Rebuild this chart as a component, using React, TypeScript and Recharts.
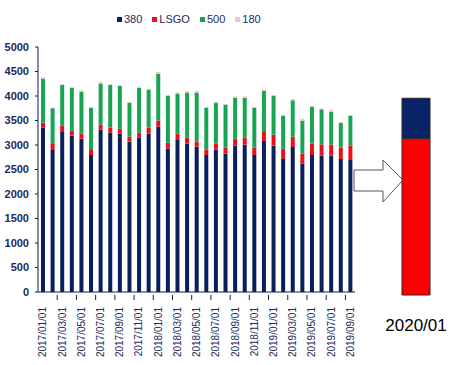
import { Bar, BarChart, XAxis, YAxis } from "recharts";

const months = [
  "2017/01/01", "2017/02/01", "2017/03/01", "2017/04/01", "2017/05/01", "2017/06/01",
  "2017/07/01", "2017/08/01", "2017/09/01", "2017/10/01", "2017/11/01", "2017/12/01",
  "2018/01/01", "2018/02/01", "2018/03/01", "2018/04/01", "2018/05/01", "2018/06/01",
  "2018/07/01", "2018/08/01", "2018/09/01", "2018/10/01", "2018/11/01", "2018/12/01",
  "2019/01/01", "2019/02/01", "2019/03/01", "2019/04/01", "2019/05/01", "2019/06/01",
  "2019/07/01", "2019/08/01", "2019/09/01",
];

const hsfo380 = [
  3353, 2913, 3266, 3190, 3129, 2796, 3313, 3251, 3231, 3068, 3149, 3231,
  3374, 2925, 3102, 3027, 2966, 2796, 2904, 2823, 2986, 3006, 2796, 3082,
  2986, 2715, 2959, 2619, 2796, 2782, 2782, 2715, 2694,
];

const lsgo = [
  102, 108, 129, 102, 102, 102, 102, 102, 102, 102, 102, 122,
  122, 122, 129, 122, 102, 108, 122, 122, 143, 143, 149, 184,
  225, 210, 210, 204, 231, 231, 225, 231, 292,
];

const hsfo500 = [
  898, 729, 837, 878, 857, 863, 837, 871, 871, 694, 918, 776,
  959, 959, 810, 918, 1000, 857, 837, 878, 837, 816, 816, 843,
  796, 674, 743, 674, 755, 714, 674, 510, 612,
];

const hsfo180 = [
  30, 15, 15, 15, 30, 15, 35, 15, 15, 15, 20, 15,
  40, 15, 35, 40, 40, 15, 15, 15, 25, 30, 20, 20,
  10, 10, 25, 40, 10, 20, 40, 10, 15,
];

const yTicks = [0, 500, 1000, 1500, 2000, 2500, 3000, 3500, 4000, 4500, 5000];

// 2020/01 outlook bar
const outlookLabel = ["2020/01"];
const outlookLsgo = [3200];
const outlook380 = [815];

const NAVY = "#0b1f5c";
const RED = "#e8101a";
const GREEN = "#17a552";
const PINK = "#f2c4c4";
const TEXT = "#1b2a5c";
const FONT = "'Liberation Sans', Arial, sans-serif";

const data = months.map((month, i) => ({
  month,
  s380: hsfo380[i],
  lsgo: lsgo[i],
  s500: hsfo500[i],
  s180: hsfo180[i],
}));

const outlookData = outlookLabel.map((label, i) => ({
  label,
  lsgo: outlookLsgo[i],
  s380: outlook380[i],
}));

const legendItems = [
  { name: "380", color: NAVY },
  { name: "LSGO", color: RED },
  { name: "500", color: GREEN },
  { name: "180", color: PINK },
];

const CHART_W = 459;
const CHART_H = 365;
const PLOT_LEFT = 38;
const PLOT_RIGHT = 355;
const BAND = (PLOT_RIGHT - PLOT_LEFT) / months.length;

const MonthTick = (props: any) => {
  const { x, y, payload, index } = props;
  return (
    <g>
      {index > 0 && (
        <line x1={x - BAND / 2} x2={x - BAND / 2} y1={y} y2={y - 5} stroke={NAVY} strokeWidth={1} />
      )}
      <text
        transform={`translate(${x + 3.6},${y + 7}) rotate(-90)`}
        textAnchor="end"
        fontSize={10}
        fontFamily={FONT}
        fill={TEXT}
      >
        {payload.value}
      </text>
    </g>
  );
};

const Arrow = () => (
  <svg
    width={60}
    height={50}
    style={{ position: "absolute", left: 350, top: 156, overflow: "visible" }}
  >
    <polygon
      points="4,14 33,14 33,4 53,24 33,46 33,35 4,35"
      fill="#fff"
      stroke="#555"
      strokeWidth={1}
    />
  </svg>
);

const App = () => {
  return (
    <div
      style={{
        position: "absolute",
        left: 0,
        top: 0,
        width: CHART_W,
        height: CHART_H,
        background: "#fff",
        fontFamily: FONT,
      }}
    >
      <div
        style={{
          position: "absolute",
          left: 117,
          top: 13,
          display: "flex",
          gap: 10,
          fontSize: 11,
          color: TEXT,
          whiteSpace: "nowrap",
        }}
      >
        {legendItems.map((item) => (
          <div key={item.name} style={{ display: "flex", alignItems: "center", gap: 2 }}>
            <span style={{ width: 5, height: 5, background: item.color, display: "inline-block" }} />
            <span>{item.name}</span>
          </div>
        ))}
      </div>

      <div style={{ position: "absolute", left: 0, top: 0 }}>
        <BarChart
          width={CHART_W}
          height={CHART_H}
          data={data}
          barSize={4}
          margin={{ top: 47, right: CHART_W - PLOT_RIGHT, bottom: 13, left: 0 }}
        >
          <XAxis
            dataKey="month"
            interval={1}
            height={60}
            tickLine={false}
            axisLine={{ stroke: NAVY }}
            tick={<MonthTick />}
          />
          <YAxis
            width={PLOT_LEFT}
            domain={[0, 5000]}
            ticks={yTicks}
            tickSize={3}
            tickMargin={6}
            axisLine={{ stroke: NAVY }}
            tickLine={{ stroke: NAVY }}
            tick={{ fontSize: 11, fontWeight: "bold", fill: TEXT, fontFamily: FONT }}
          />
          <Bar dataKey="s380" name="380" stackId="a" fill={NAVY} isAnimationActive={false} />
          <Bar dataKey="lsgo" name="LSGO" stackId="a" fill={RED} isAnimationActive={false} />
          <Bar dataKey="s500" name="500" stackId="a" fill={GREEN} isAnimationActive={false} />
          <Bar dataKey="s180" name="180" stackId="a" fill={PINK} isAnimationActive={false} />
        </BarChart>
      </div>

      <Arrow />

      <div style={{ position: "absolute", left: 376, top: 0 }}>
        <BarChart
          width={80}
          height={CHART_H}
          data={outlookData}
          barSize={28}
          margin={{ top: 50, right: 0, bottom: 0, left: 0 }}
        >
          <XAxis
            dataKey="label"
            height={70}
            tickLine={false}
            axisLine={false}
            tickSize={0}
            tickMargin={24}
            tick={{ fontSize: 17, fill: "#000", fontFamily: FONT }}
          />
          <YAxis hide domain={[0, 5000]} />
          <Bar
            dataKey="lsgo"
            stackId="b"
            fill="#ff0000"
            stroke="#2a2a2a"
            strokeWidth={1}
            isAnimationActive={false}
          />
          <Bar
            dataKey="s380"
            stackId="b"
            fill="#0a2266"
            stroke="#2a2a2a"
            strokeWidth={1}
            isAnimationActive={false}
          />
        </BarChart>
      </div>
    </div>
  );
};

export default App;
